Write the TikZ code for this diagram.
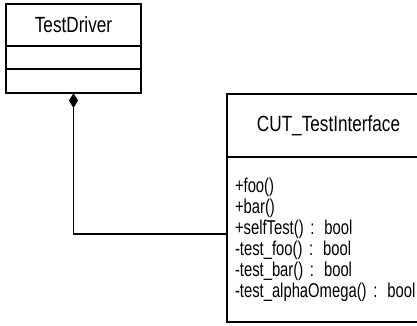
\documentclass[tikz,border=0pt]{standalone}
\usepackage{fontspec}
\newfontfamily\umlfont{Liberation Sans}[FakeStretch=0.78]
\newfontfamily\memberfont{Liberation Sans}[FakeStretch=0.74]
\newcommand\memberstyle{\memberfont\fontsize{20}{21}\selectfont\fontdimen2\font=2.6pt\relax}
\usetikzlibrary{arrows.meta, positioning}

\begin{document}
\begin{tikzpicture}[x=1pt, y=-1pt, node distance=0pt,
    cls/.style={draw, line width=1.1pt, outer sep=0pt, inner sep=0pt},
    clsname/.style={cls, font=\umlfont\fontsize{22}{24}\selectfont},
    members/.style={cls, align=left, inner xsep=8pt, font=\memberstyle},
    composition/.style={{Diamond[length=15pt, width=9pt]}-, line width=1.4pt}]
    \useasboundingbox (0,0) rectangle (417,325);

    % driver class
    \node (drv) [clsname, minimum width=135pt, minimum height=42pt] at (73.5,25) {TestDriver};
    \node (drvattr) [cls, minimum width=135pt, minimum height=23pt, below= of drv] {};
    \node (drvops) [cls, minimum width=135pt, minimum height=24pt, below= of drvattr] {};

    % class under test
    \node (cut) [clsname, minimum width=203pt, minimum height=63pt] at (328.5,125.5) {CUT\_TestInterface};
    \node (cutops) [members, text width=187pt, minimum height=165pt, below= of cut]
        {+foo()\\+bar()\\+selfTest() : bool\\-test\_foo() : bool\\-test\_bar() : bool\\-test\_alphaOmega() : bool};

    \draw[composition] (drvops.south) |- ([yshift=5.5pt]cutops.west);
\end{tikzpicture}
\end{document}
